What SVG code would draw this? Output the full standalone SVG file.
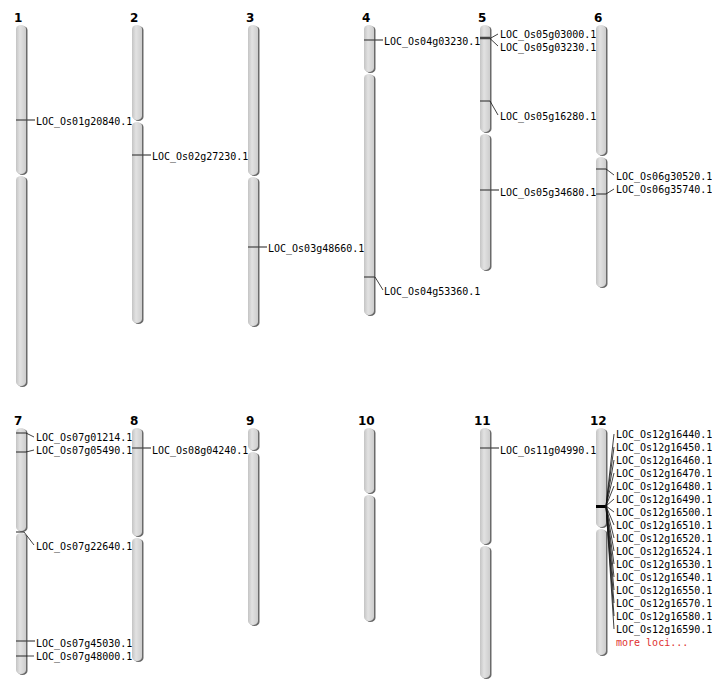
<svg xmlns="http://www.w3.org/2000/svg" width="712" height="700" viewBox="0 0 712 700">
<defs>
<linearGradient id="chrGrad" x1="0" y1="0" x2="1" y2="0">
<stop offset="0" stop-color="#c4c4c4"/>
<stop offset="0.4" stop-color="#e2e2e2"/>
<stop offset="1" stop-color="#cdcdcd"/>
</linearGradient>
</defs>
<style>
.arm{fill:url(#chrGrad);}
.sh{fill:#6a6a6a;}
.num{font-family:"DejaVu Sans",sans-serif;font-weight:bold;font-size:12px;fill:#000;}
.lab{font-family:"DejaVu Sans Mono",monospace;font-size:10px;fill:#000;}
.more{font-family:"DejaVu Sans Mono",monospace;font-size:10px;fill:#e03030;}
.mk{stroke:#444;stroke-width:1.2;fill:none;}
.cn{stroke:#111;stroke-width:0.8;fill:none;}
.mk12{stroke:#000;stroke-width:3;fill:none;}
</style>
<rect width="712" height="700" fill="#fff"/>

<g id="chr1">
<text class="num" x="14" y="22">1</text>
<rect class="sh" x="17.5" y="26" width="10" height="149" rx="5" ry="4"/>
<rect class="arm" x="16" y="25" width="10" height="149" rx="5" ry="4"/>
<rect class="sh" x="17.5" y="177" width="10" height="210" rx="5" ry="4"/>
<rect class="arm" x="16" y="176" width="10" height="210" rx="5" ry="4"/>
</g>
<g id="chr2">
<text class="num" x="130" y="22">2</text>
<rect class="sh" x="133.5" y="26" width="10" height="95" rx="5" ry="4"/>
<rect class="arm" x="132" y="25" width="10" height="95" rx="5" ry="4"/>
<rect class="sh" x="133.5" y="123" width="10" height="201" rx="5" ry="4"/>
<rect class="arm" x="132" y="122" width="10" height="201" rx="5" ry="4"/>
</g>
<g id="chr3">
<text class="num" x="246" y="22">3</text>
<rect class="sh" x="249.5" y="26" width="10" height="150" rx="5" ry="4"/>
<rect class="arm" x="248" y="25" width="10" height="150" rx="5" ry="4"/>
<rect class="sh" x="249.5" y="178" width="10" height="149" rx="5" ry="4"/>
<rect class="arm" x="248" y="177" width="10" height="149" rx="5" ry="4"/>
</g>
<g id="chr4">
<text class="num" x="362" y="22">4</text>
<rect class="sh" x="365.5" y="26" width="10" height="47" rx="5" ry="4"/>
<rect class="arm" x="364" y="25" width="10" height="47" rx="5" ry="4"/>
<rect class="sh" x="365.5" y="75" width="10" height="241" rx="5" ry="4"/>
<rect class="arm" x="364" y="74" width="10" height="241" rx="5" ry="4"/>
</g>
<g id="chr5">
<text class="num" x="478" y="22">5</text>
<rect class="sh" x="481.5" y="26" width="10" height="107" rx="5" ry="4"/>
<rect class="arm" x="480" y="25" width="10" height="107" rx="5" ry="4"/>
<rect class="sh" x="481.5" y="135" width="10" height="136" rx="5" ry="4"/>
<rect class="arm" x="480" y="134" width="10" height="136" rx="5" ry="4"/>
</g>
<g id="chr6">
<text class="num" x="594" y="22">6</text>
<rect class="sh" x="597.5" y="26" width="10" height="130" rx="5" ry="4"/>
<rect class="arm" x="596" y="25" width="10" height="130" rx="5" ry="4"/>
<rect class="sh" x="597.5" y="158" width="10" height="130" rx="5" ry="4"/>
<rect class="arm" x="596" y="157" width="10" height="130" rx="5" ry="4"/>
</g>
<g id="chr7">
<text class="num" x="14" y="425">7</text>
<rect class="sh" x="17.5" y="429" width="10" height="103" rx="5" ry="4"/>
<rect class="arm" x="16" y="428" width="10" height="103" rx="5" ry="4"/>
<rect class="sh" x="17.5" y="534" width="10" height="141" rx="5" ry="4"/>
<rect class="arm" x="16" y="533" width="10" height="141" rx="5" ry="4"/>
</g>
<g id="chr8">
<text class="num" x="130" y="425">8</text>
<rect class="sh" x="133.5" y="429" width="10" height="108" rx="5" ry="4"/>
<rect class="arm" x="132" y="428" width="10" height="108" rx="5" ry="4"/>
<rect class="sh" x="133.5" y="539" width="10" height="123" rx="5" ry="4"/>
<rect class="arm" x="132" y="538" width="10" height="123" rx="5" ry="4"/>
</g>
<g id="chr9">
<text class="num" x="246" y="425">9</text>
<rect class="sh" x="249.5" y="429" width="10" height="22" rx="5" ry="4"/>
<rect class="arm" x="248" y="428" width="10" height="22" rx="5" ry="4"/>
<rect class="sh" x="249.5" y="453" width="10" height="173" rx="5" ry="4"/>
<rect class="arm" x="248" y="452" width="10" height="173" rx="5" ry="4"/>
</g>
<g id="chr10">
<text class="num" x="358" y="425">10</text>
<rect class="sh" x="365.5" y="429" width="10" height="65" rx="5" ry="4"/>
<rect class="arm" x="364" y="428" width="10" height="65" rx="5" ry="4"/>
<rect class="sh" x="365.5" y="496" width="10" height="126" rx="5" ry="4"/>
<rect class="arm" x="364" y="495" width="10" height="126" rx="5" ry="4"/>
</g>
<g id="chr11">
<text class="num" x="474" y="425">11</text>
<rect class="sh" x="481.5" y="429" width="10" height="116" rx="5" ry="4"/>
<rect class="arm" x="480" y="428" width="10" height="116" rx="5" ry="4"/>
<rect class="sh" x="481.5" y="547" width="10" height="132" rx="5" ry="4"/>
<rect class="arm" x="480" y="546" width="10" height="132" rx="5" ry="4"/>
</g>
<g id="chr12">
<text class="num" x="590" y="425">12</text>
<rect class="sh" x="597.5" y="429" width="10" height="99" rx="5" ry="4"/>
<rect class="arm" x="596" y="428" width="10" height="99" rx="5" ry="4"/>
<rect class="sh" x="597.5" y="530" width="10" height="126" rx="5" ry="4"/>
<rect class="arm" x="596" y="529" width="10" height="126" rx="5" ry="4"/>
</g>

<g id="connectors">
<path class="mk" d="M16 120H35"/>
<path class="mk" d="M132 155H151"/>
<path class="mk" d="M248 247H267"/>
<path class="mk" d="M364 40H383"/>
<path class="mk" d="M364 277H375"/><path class="cn" d="M375 277L383 290"/>
<path class="mk" d="M480 38H490" style="stroke-width:2.5"/>
<path class="cn" d="M490 38.5L498 34"/><path class="cn" d="M490 38.5L498 46"/>
<path class="mk" d="M480 101H490"/><path class="cn" d="M490 101L498 115"/>
<path class="mk" d="M480 190H499"/>
<path class="mk" d="M596 169H606"/><path class="cn" d="M606 169L614 175"/>
<path class="mk" d="M596 194H606"/><path class="cn" d="M606 194L614 189"/>
<path class="mk" d="M16 433H26"/><path class="cn" d="M26 433L34 437"/>
<path class="mk" d="M16 452H26"/><path class="cn" d="M26 452L34 450"/>
<path class="mk" d="M16 532H24"/><path class="cn" d="M24 532L34 545"/>
<path class="mk" d="M16 641H35"/>
<path class="mk" d="M16 656H26"/><path class="cn" d="M26 656L34 656"/>
<path class="mk" d="M132 448H151"/>
<path class="mk" d="M480 448H499"/>
<path class="mk12" d="M596 506.5H606"/>
<path class="cn" d="M606 506L614 434M606 506L614 447M606 506L614 460M606 506L614 473M606 506L614 486M606 506L614 499M606 506L614 512M606 506L614 525M606 506L614 538M606 506L614 551M606 506L614 564M606 506L614 577M606 506L614 590M606 506L614 603M606 506L614 616M606 506L614 629"/>
</g>

<g id="labels">
<text class="lab" x="36" y="124.5">LOC_Os01g20840.1</text>
<text class="lab" x="152" y="159.5">LOC_Os02g27230.1</text>
<text class="lab" x="268" y="251.5">LOC_Os03g48660.1</text>
<text class="lab" x="384" y="44.5">LOC_Os04g03230.1</text>
<text class="lab" x="384" y="294.5">LOC_Os04g53360.1</text>
<text class="lab" x="500" y="37.5">LOC_Os05g03000.1</text>
<text class="lab" x="500" y="50.5">LOC_Os05g03230.1</text>
<text class="lab" x="500" y="119.5">LOC_Os05g16280.1</text>
<text class="lab" x="500" y="195.5">LOC_Os05g34680.1</text>
<text class="lab" x="616" y="179.5">LOC_Os06g30520.1</text>
<text class="lab" x="616" y="192.5">LOC_Os06g35740.1</text>
<text class="lab" x="36" y="440.5">LOC_Os07g01214.1</text>
<text class="lab" x="36" y="453.5">LOC_Os07g05490.1</text>
<text class="lab" x="36" y="549.5">LOC_Os07g22640.1</text>
<text class="lab" x="36" y="646.5">LOC_Os07g45030.1</text>
<text class="lab" x="36" y="659.5">LOC_Os07g48000.1</text>
<text class="lab" x="152" y="453.5">LOC_Os08g04240.1</text>
<text class="lab" x="500" y="453.5">LOC_Os11g04990.1</text>
<text class="lab" x="616" y="437.5">LOC_Os12g16440.1</text>
<text class="lab" x="616" y="450.5">LOC_Os12g16450.1</text>
<text class="lab" x="616" y="463.5">LOC_Os12g16460.1</text>
<text class="lab" x="616" y="476.5">LOC_Os12g16470.1</text>
<text class="lab" x="616" y="489.5">LOC_Os12g16480.1</text>
<text class="lab" x="616" y="502.5">LOC_Os12g16490.1</text>
<text class="lab" x="616" y="515.5">LOC_Os12g16500.1</text>
<text class="lab" x="616" y="528.5">LOC_Os12g16510.1</text>
<text class="lab" x="616" y="541.5">LOC_Os12g16520.1</text>
<text class="lab" x="616" y="554.5">LOC_Os12g16524.1</text>
<text class="lab" x="616" y="567.5">LOC_Os12g16530.1</text>
<text class="lab" x="616" y="580.5">LOC_Os12g16540.1</text>
<text class="lab" x="616" y="593.5">LOC_Os12g16550.1</text>
<text class="lab" x="616" y="606.5">LOC_Os12g16570.1</text>
<text class="lab" x="616" y="619.5">LOC_Os12g16580.1</text>
<text class="lab" x="616" y="632.5">LOC_Os12g16590.1</text>
<text class="more" x="616" y="645.5">more loci...</text>
</g>
</svg>
